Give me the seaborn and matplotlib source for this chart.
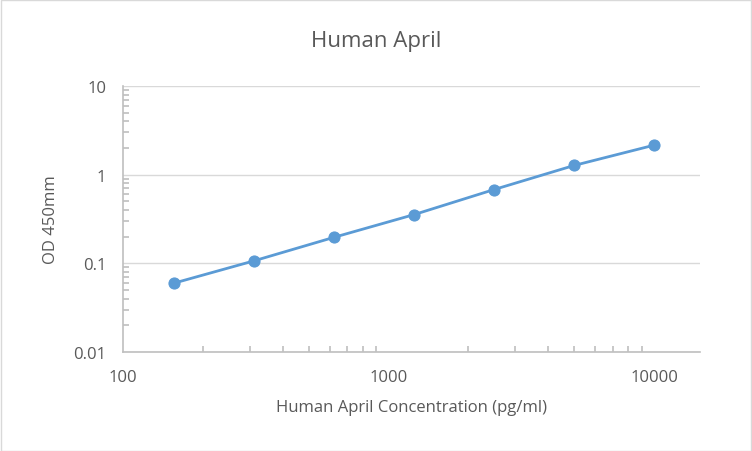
import matplotlib
matplotlib.use("Agg")
import matplotlib.pyplot as plt
import seaborn as sns
import pandas as pd
from matplotlib.ticker import LogLocator, FixedLocator, FixedFormatter, NullFormatter

conc = [156.25, 312.5, 625, 1250, 2500, 5000, 10000]
od = [0.06, 0.107, 0.197, 0.355, 0.68, 1.27, 2.15]
xticks = [100, 1000, 10000]
xlabels = ["100", "1000", "10000"]
yticks = [0.01, 0.1, 1, 10]
ylabels = ["0.01", "0.1", "1", "10"]

sns.set_style("white")
plt.rcParams['font.family'] = ['Open Sans', 'DejaVu Sans']
df = pd.DataFrame({"conc": conc, "od": od})

fig = plt.figure(figsize=(7.52, 4.52), dpi=100)
ax = fig.add_axes([123/752, 1-353/452, (700-123)/752, (353-87)/452])
color = "#5B9BD5"
sns.lineplot(data=df, x="conc", y="od", ax=ax, color=color, lw=2, marker="o",
             markersize=8, markeredgecolor=color)
ax.set_xscale("log"); ax.set_yscale("log")
ax.set_xlim(100, 14900); ax.set_ylim(0.01, 10)
ax.xaxis.set_major_locator(FixedLocator(xticks))
ax.xaxis.set_major_formatter(FixedFormatter(xlabels))
ax.yaxis.set_major_locator(FixedLocator(yticks))
ax.yaxis.set_major_formatter(FixedFormatter(ylabels))
ax.xaxis.set_minor_locator(LogLocator(base=10, subs=range(2, 10)))
ax.yaxis.set_minor_locator(LogLocator(base=10, subs=range(2, 10)))
ax.xaxis.set_minor_formatter(NullFormatter()); ax.yaxis.set_minor_formatter(NullFormatter())
ax.grid(True, which="major", axis="y", color="#D9D9D9", lw=1)
for s in ["top", "right"]:
    ax.spines[s].set_visible(False)
for s in ["left", "bottom"]:
    ax.spines[s].set_color("#BFBFBF")
    ax.spines[s].set_linewidth(1.2)
ax.tick_params(axis="both", which="major", bottom=True, left=True, colors="#BFBFBF",
               labelcolor="#595959", labelsize=12, length=0, pad=12)
ax.tick_params(axis="both", which="minor", bottom=True, left=True, colors="#BFBFBF",
               length=4, width=1.2, direction="in")
ax.set_xlabel("Human April Concentration (pg/ml)", fontsize=12, color="#595959", labelpad=10)
ax.set_ylabel("OD 450mm", fontsize=12, color="#595959", labelpad=10)
fig.text(0.5, 1-42/452, "Human April", ha="center", va="center", fontsize=16, color="#595959")
fig.patches.append(plt.Rectangle((0.001, 0.001), 0.998, 0.997, transform=fig.transFigure,
                                 fill=False, edgecolor="#D9D9D9", lw=1))
fig.savefig("out.png", dpi=100)
